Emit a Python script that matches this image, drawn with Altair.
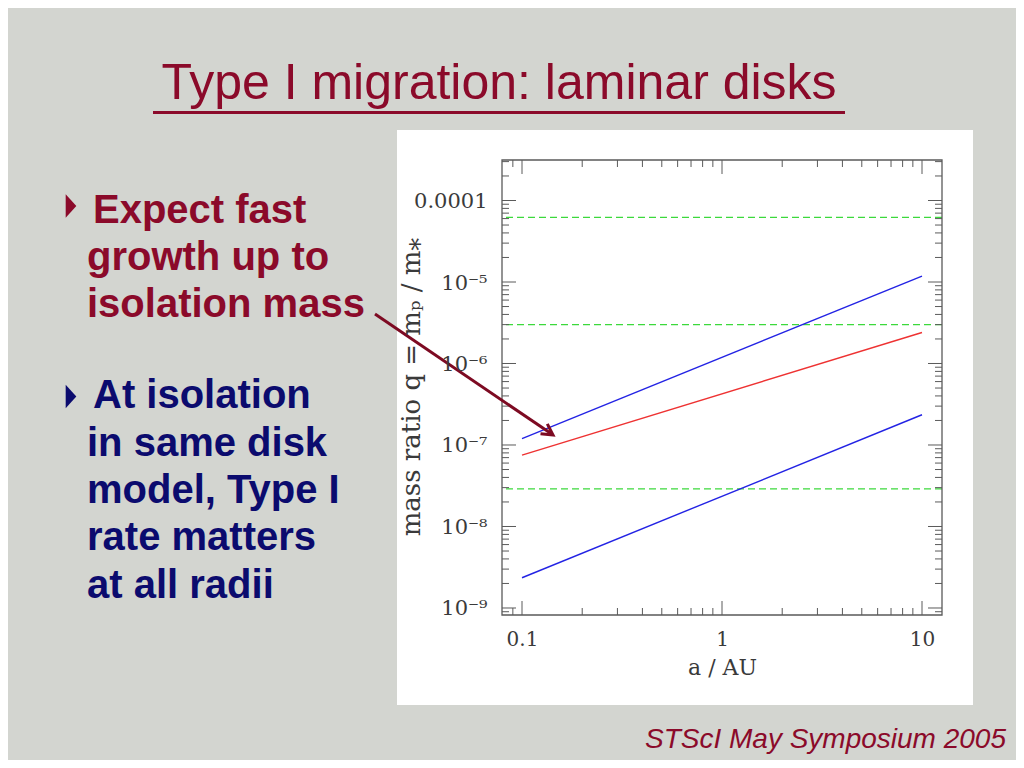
import altair as alt
import pandas as pd

# ---------------- values ----------------
a_au = [0.1, 10.0]
q_blue_upper = [1.2e-7, 1.18e-5]
q_red = [7.5e-8, 2.4e-6]
q_blue_lower = [2.35e-9, 2.35e-7]
series_names = ["blue_upper", "red", "blue_lower"]
series_colors = ["#2323e4", "#ee3232", "#2323e4"]
q_dashed = [6.2e-5, 3.0e-6, 2.9e-8]

x_major = [0.1, 1, 10]
x_major_labels = ["0.1", "1", "10"]
x_minor = [0.09, 0.2, 0.3, 0.4, 0.5, 0.6, 0.7, 0.8, 0.9, 2, 3, 4, 5, 6, 7, 8, 9]
y_major = [1e-9, 1e-8, 1e-7, 1e-6, 1e-5, 1e-4]
y_major_labels = ["10⁻⁹", "10⁻⁸", "10⁻⁷", "10⁻⁶", "10⁻⁵", "0.0001"]
y_minor = [9e-10] + [k * 10.0 ** e for e in range(-9, -4) for k in range(2, 10)] + [2e-4, 3e-4]

title_text = "Type I migration: laminar disks"
bullet1 = ["Expect fast", "growth up to", "isolation mass"]
bullet2 = ["At isolation", "in same disk", "model, Type I", "rate matters", "at all radii"]
footer_text = "STScI May Symposium 2005"
x_title = "a / AU"
y_title = "mass ratio q = mₚ / m⁎"

# ---------------- layout / style ----------------
W, H = 440, 455
BG = "#d3d5d0"
RED = "#8b0a2a"
NAVY = "#0b0b6e"
FRAME = "#5a5a5a"
LABEL = "#3a3a3a"
SERIF = "DejaVu Serif"
SANS = "Liberation Sans"
MAJOR, MINOR = 14, 7

x_scale = alt.Scale(type="log", domain=[10 ** -1.1, 10 ** 1.1], nice=False)
y_scale = alt.Scale(type="log", domain=[10 ** -9.086, 10 ** -3.503], nice=False)


def label_expr(values, labels):
    parts = [f"abs(datum.value / {v!r} - 1) < 0.001 ? '{l}'" for v, l in zip(values, labels)]
    return " : ".join(parts) + " : ''"


rows = []
for name, qs in zip(series_names, [q_blue_upper, q_red, q_blue_lower]):
    for a, q in zip(a_au, qs):
        rows.append({"a": a, "q": q, "series": name})
df = pd.DataFrame(rows)

x_label_axis = alt.Axis(
    orient="bottom", values=x_major, labelExpr=label_expr(x_major, x_major_labels),
    ticks=False, tickSize=0, domain=False, grid=False, labelFlush=False, labelOverlap=False,
    labelPadding=30, labelBaseline="alphabetic", labelFont=SERIF, labelFontSize=20,
    labelColor=LABEL, title=x_title, titleFont=SERIF, titleFontSize=22,
    titleFontWeight="normal", titleColor=LABEL, titleX=220, titleY=59,
    titleAlign="center", titleBaseline="alphabetic", zindex=1,
)
y_label_axis = alt.Axis(
    orient="left", values=y_major, labelExpr=label_expr(y_major, y_major_labels),
    ticks=False, tickSize=0, domain=False, grid=False, labelFlush=False, labelOverlap=False,
    labelPadding=15, labelBaseline="alphabetic", labelOffset=7, labelFont=SERIF,
    labelFontSize=21, labelColor=LABEL, title=y_title, titleFont=SERIF, titleFontSize=26,
    titleFontWeight="normal", titleColor=LABEL, titleX=-83, titleY=226.5, titleAngle=270,
    titleAlign="center", titleBaseline="alphabetic", zindex=1,
)

one = pd.DataFrame({"t": [""]})

panel = alt.Chart(one).mark_rect(fill="white").encode(
    x=alt.value(-105), x2=alt.value(471), y=alt.value(-30), y2=alt.value(545)
)

lines = alt.Chart(df).mark_line(strokeWidth=1.4).encode(
    x=alt.X("a:Q", scale=x_scale, axis=x_label_axis),
    y=alt.Y("q:Q", scale=y_scale, axis=y_label_axis),
    color=alt.Color("series:N", scale=alt.Scale(domain=series_names, range=series_colors), legend=None),
)

dashed = alt.Chart(pd.DataFrame({"q": q_dashed})).mark_rule(
    color="#3cd93c", strokeDash=[7, 4], strokeWidth=1.3
).encode(y=alt.Y("q:Q", scale=y_scale, axis=None))

# inward ticks on all four sides, placed by the shared scales
xt_major = pd.DataFrame({"v": x_major})
xt_minor = pd.DataFrame({"v": x_minor})
yt_major = pd.DataFrame({"v": y_major})
yt_minor = pd.DataFrame({"v": y_minor})


def xticks(data, edge, length):
    y0, y1 = (H, H - length) if edge == "bottom" else (0, length)
    return alt.Chart(data).mark_rule(color=FRAME, strokeWidth=1).encode(
        x=alt.X("v:Q", scale=x_scale, axis=None), y=alt.value(y0), y2=alt.value(y1)
    )


def yticks(data, edge, length):
    x0, x1 = (0, length) if edge == "left" else (W, W - length)
    return alt.Chart(data).mark_rule(color=FRAME, strokeWidth=1).encode(
        y=alt.Y("v:Q", scale=y_scale, axis=None), x=alt.value(x0), x2=alt.value(x1)
    )


ticks = [
    xticks(xt_major, "bottom", MAJOR), xticks(xt_minor, "bottom", MINOR),
    xticks(xt_major, "top", MAJOR), xticks(xt_minor, "top", MINOR),
    yticks(yt_major, "left", MAJOR), yticks(yt_minor, "left", MINOR),
    yticks(yt_major, "right", MAJOR), yticks(yt_minor, "right", MINOR),
]

frame = alt.Chart(one).mark_rect(filled=False, color=FRAME, strokeWidth=1.3).encode(
    x=alt.value(0), x2=alt.value(W), y=alt.value(0), y2=alt.value(H)
)


def text_layer(text, x, y, **style):
    return alt.Chart(pd.DataFrame({"t": [text]})).mark_text(**style).encode(
        x=alt.value(x), y=alt.value(y), text="t:N"
    )


texts = []
texts.append(text_layer(title_text, -3, -61, align="center", baseline="alphabetic",
                        font=SANS, fontSize=50, color=RED))
underline = alt.Chart(one).mark_rule(color=RED, strokeWidth=3).encode(
    x=alt.value(-349), x2=alt.value(343), y=alt.value(-47.5), y2=alt.value(-47.5)
)
bstyle = dict(align="left", baseline="alphabetic", font=SANS, fontSize=40, fontWeight="bold")
b1_y = [63, 110, 157]
b2_y = [248, 295.5, 343, 390, 437.5]
for i, (line, yy) in enumerate(zip(bullet1, b1_y)):
    texts.append(text_layer(line, -409 if i == 0 else -415, yy, color=RED, **bstyle))
for i, (line, yy) in enumerate(zip(bullet2, b2_y)):
    texts.append(text_layer(line, -409 if i == 0 else -415, yy, color=NAVY, **bstyle))
texts.append(text_layer(footer_text, 504, 588, align="right", baseline="alphabetic",
                        font=SANS, fontSize=28, fontStyle="italic", color=RED))

tri = "M-0.45,-1L0.45,0L-0.45,1Z"
bullets = [
    alt.Chart(one).mark_point(shape=tri, filled=True, size=560, opacity=1, color=RED, strokeWidth=0)
    .encode(x=alt.value(-431), y=alt.value(46)),
    alt.Chart(one).mark_point(shape=tri, filled=True, size=560, opacity=1, color=NAVY, strokeWidth=0)
    .encode(x=alt.value(-431), y=alt.value(236.5)),
]

ARROW = "#7d0a22"
arrow_line = alt.Chart(one).mark_rule(color=ARROW, strokeWidth=3).encode(
    x=alt.value(-127), y=alt.value(154), x2=alt.value(49), y2=alt.value(273.6)
)
arrow_head = alt.Chart(one).mark_point(
    shape="M-1,-0.55L0,0L-1,0.55", filled=False, size=484, angle=34.2,
    strokeWidth=3, opacity=1, color=ARROW
).encode(x=alt.value(51), y=alt.value(275))

chart = alt.layer(
    panel, dashed, lines, *ticks, frame, underline, *texts, *bullets, arrow_line, arrow_head
).resolve_axis(x="independent", y="independent").properties(
    width=W, height=H,
    padding={"left": 494, "top": 152, "right": 74, "bottom": 145},
    autosize=alt.AutoSizeParams(type="none"),
    background=BG,
).configure_view(strokeWidth=0)

chart.save("out.html", embed_options={"renderer": "svg", "actions": False})
